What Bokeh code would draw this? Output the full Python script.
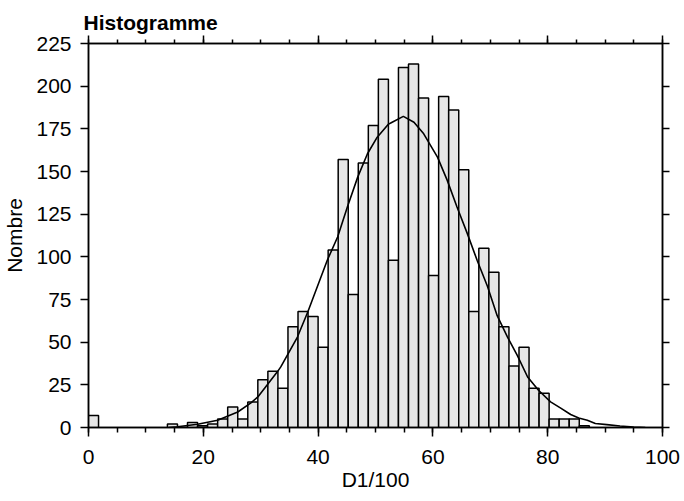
from bokeh.plotting import figure
from bokeh.models import LinearAxis, Range1d, FixedTicker, ColumnDataSource
from bokeh.embed import file_html
from bokeh.resources import INLINE

# ---- data ----
# isolated bin at the origin
lone_bin_left = [0.0]
lone_bin_count = [7]

# regular bins
bin_start = 13.75
bin_width = 1.75
counts = [2, 0, 3, 1, 2, 5, 12, 5, 15, 28,
          33, 23, 59, 68, 65, 47, 104, 157, 78, 155,
          177, 204, 98, 211, 213, 193, 89, 194, 186, 151,
          68, 105, 91, 59, 36, 47, 23, 20, 5, 5,
          5, 1]

# fitted (smooth) curve
curve_x = [14.0, 15.5, 19.0, 22.5, 26.0, 28.3, 29.5, 32.9, 33.5, 36.4,
           38.2, 41.6, 43.4, 45.1, 46.9, 48.6, 50.3, 52.2, 52.9, 54.85,
           56.7, 58.4, 60.8, 62.5, 64.2, 66.0, 67.7, 69.5, 71.2, 73.0,
           74.7, 76.5, 78.4, 80.5, 82.2, 84.0, 85.4, 86.9, 88.3, 90.3,
           92.6, 95.0, 97.0]
curve_y = [0.0, 0.4, 1.9, 4.3, 9.1, 14.4, 17.9, 32.6, 35.5, 53.0,
           67.7, 98.0, 111.6, 129.2, 146.7, 160.4, 170.1, 177.6, 178.9, 182.3,
           178.9, 172.1, 158.4, 144.8, 129.2, 113.6, 98.0, 82.8, 65.5, 53.0,
           42.3, 29.6, 21.8, 15.0, 11.5, 7.6, 5.6, 4.3, 2.3, 1.7,
           0.9, 0.2, 0.0]

x_ticks = [0, 20, 40, 60, 80, 100]
x_minor = [0, 5, 10, 15, 20, 25, 30, 35, 40, 45, 50, 55, 60, 65, 70, 75, 80, 85, 90, 95, 100]
y_ticks = [0, 25, 50, 75, 100, 125, 150, 175, 200, 225]

# ---- build sources ----
lefts = lone_bin_left + [bin_start + i * bin_width for i in range(len(counts))]
rights = [lone_bin_left[0] + bin_width] + [bin_start + (i + 1) * bin_width for i in range(len(counts))]
tops = lone_bin_count + counts
bars = ColumnDataSource(dict(left=lefts, right=rights, top=tops, bottom=[0] * len(tops)))
curve = ColumnDataSource(dict(x=curve_x, y=curve_y))

FONT = "Liberation Sans"

p = figure(width=680, height=498, x_range=Range1d(0, 100), y_range=Range1d(0, 225),
           output_backend="svg", toolbar_location=None,
           min_border_left=87, min_border_right=18, min_border_top=43, min_border_bottom=71,
           x_axis_label="D1/100", y_axis_label="Nombre")

p.quad(left="left", right="right", top="top", bottom="bottom", source=bars,
       fill_color="#e6e6e6", line_color="black", line_width=1.5)
p.line("x", "y", source=curve, line_color="black", line_width=1.6)

p.xgrid.grid_line_color = None
p.ygrid.grid_line_color = None
p.outline_line_color = "black"
p.outline_line_width = 1.5
p.background_fill_color = "white"
p.border_fill_color = "white"

p.title.text = "Histogramme"
p.title.text_font = FONT
p.title.text_font_style = "bold"
p.title.text_font_size = "21px"
p.title.text_color = "black"
p.title.align = "left"
p.title.offset = -5
p.title.standoff = 4

def style_axis(ax, labels=True):
    ax.axis_line_width = 1.5
    ax.axis_line_color = "black"
    ax.major_tick_line_width = 1.5
    ax.major_tick_line_color = "black"
    ax.minor_tick_line_width = 1.5
    ax.minor_tick_line_color = "black"
    ax.major_tick_in = 0
    ax.minor_tick_in = 0
    ax.major_label_text_font = FONT
    ax.axis_label_text_font = FONT
    ax.axis_label_text_font_style = "normal"
    ax.axis_label_text_color = "black"
    if labels:
        ax.major_label_text_color = "black"
        ax.major_label_text_font_size = "21px"
        ax.axis_label_text_font_size = "21px"
    else:
        ax.major_label_text_color = None
        ax.major_label_text_font_size = "1px"
        ax.major_label_standoff = 0

# bottom
xb = p.xaxis[0]
xb.ticker = FixedTicker(ticks=x_ticks, minor_ticks=x_minor)
style_axis(xb)
xb.major_tick_out = 9
xb.minor_tick_out = 5
xb.major_label_standoff = 13
xb.axis_label_standoff = 1

# left
yl = p.yaxis[0]
yl.ticker = FixedTicker(ticks=y_ticks, minor_ticks=[])
style_axis(yl)
yl.major_tick_out = 8
yl.minor_tick_out = 0
yl.major_label_standoff = 9
yl.axis_label_standoff = 7

# top
xt = LinearAxis(ticker=FixedTicker(ticks=x_ticks, minor_ticks=x_minor))
style_axis(xt, labels=False)
xt.major_tick_out = 8
xt.minor_tick_out = 4
p.add_layout(xt, "above")

# right
yr = LinearAxis(ticker=FixedTicker(ticks=y_ticks, minor_ticks=[]))
style_axis(yr, labels=False)
yr.major_tick_out = 7
yr.minor_tick_out = 0
p.add_layout(yr, "right")

open("out.html", "w").write(file_html(p, INLINE))
